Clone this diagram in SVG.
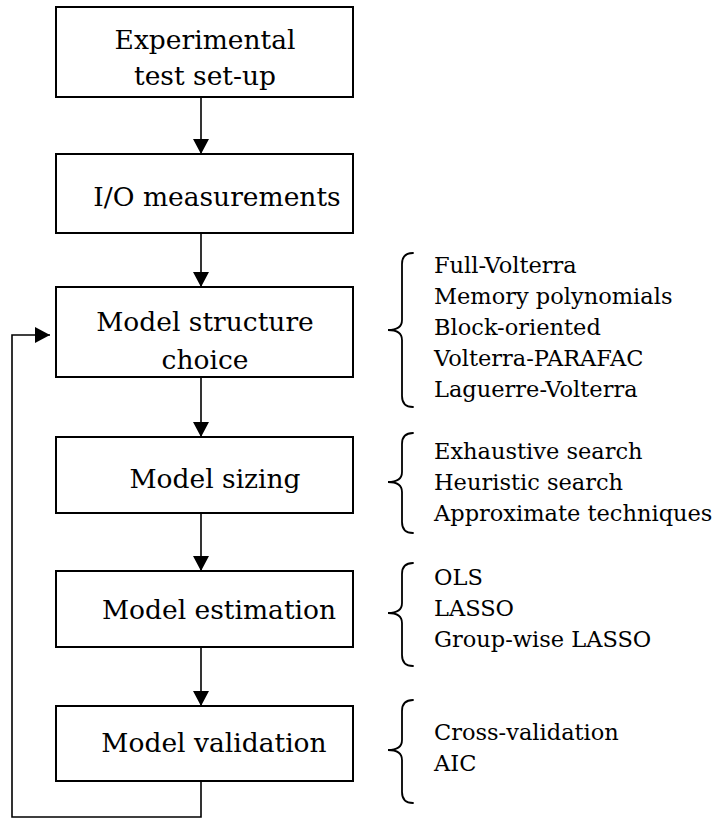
<svg xmlns="http://www.w3.org/2000/svg" width="715" height="819" viewBox="0 0 715 819">
  <style>
    .box { fill: #ffffff; stroke: #000000; stroke-width: 2; }
    .lbl { font-family: "DejaVu Serif", "Liberation Serif", serif; font-size: 26.5px; fill: #000000; text-anchor: middle; }
    .opt { font-family: "DejaVu Serif", "Liberation Serif", serif; font-size: 22.5px; fill: #000000; }
    .edge { fill: none; stroke: #000000; stroke-width: 1.6; }
    .brace { fill: none; stroke: #000000; stroke-width: 1.8; stroke-linecap: round; }
  </style>
  <defs>
    <marker id="arrow" viewBox="0 0 15 16" refX="15" refY="8" markerWidth="15" markerHeight="16" markerUnits="userSpaceOnUse" orient="auto">
      <path d="M0,0 L15,8 L0,16 Z" fill="#000000"/>
    </marker>
  </defs>

  <rect width="715" height="819" fill="#ffffff"/>

  <!-- connectors -->
  <g id="connectors">
    <line class="edge" x1="201" y1="98" x2="201" y2="154" marker-end="url(#arrow)"/>
    <line class="edge" x1="201" y1="234" x2="201" y2="287" marker-end="url(#arrow)"/>
    <line class="edge" x1="201" y1="378" x2="201" y2="437" marker-end="url(#arrow)"/>
    <line class="edge" x1="201" y1="513" x2="201" y2="571" marker-end="url(#arrow)"/>
    <line class="edge" x1="201" y1="647" x2="201" y2="706" marker-end="url(#arrow)"/>
    <!-- feedback loop from validation back to structure choice -->
    <polyline class="edge" points="201,781 201,817 12,817 12,335 50,335" marker-end="url(#arrow)"/>
  </g>

  <!-- flow nodes -->
  <g id="node-setup">
    <rect class="box" x="56" y="7" width="297" height="90"/>
    <text class="lbl" x="205" y="49">Experimental</text>
    <text class="lbl" x="205" y="85">test set-up</text>
  </g>
  <g id="node-measurements">
    <rect class="box" x="56" y="154" width="297" height="79"/>
    <text class="lbl" x="217" y="206">I/O measurements</text>
  </g>
  <g id="node-structure">
    <rect class="box" x="56" y="287" width="297" height="90"/>
    <text class="lbl" x="205" y="331">Model structure</text>
    <text class="lbl" x="205" y="369">choice</text>
  </g>
  <g id="node-sizing">
    <rect class="box" x="56" y="437" width="297" height="76"/>
    <text class="lbl" x="215" y="488">Model sizing</text>
  </g>
  <g id="node-estimation">
    <rect class="box" x="56" y="571" width="297" height="76"/>
    <text class="lbl" x="219" y="619">Model estimation</text>
  </g>
  <g id="node-validation">
    <rect class="box" x="56" y="706" width="297" height="75"/>
    <text class="lbl" x="214" y="752">Model validation</text>
  </g>

  <!-- option lists with braces -->
  <g id="opts-structure">
    <path class="brace" d="M413,253 Q402,253 402,264 L402,320 Q402,330 388,330 Q402,330 402,340 L402,396 Q402,407 413,407"/>
    <text class="opt" x="434" y="273">Full-Volterra</text>
    <text class="opt" x="434" y="304">Memory polynomials</text>
    <text class="opt" x="434" y="335">Block-oriented</text>
    <text class="opt" x="434" y="366">Volterra-PARAFAC</text>
    <text class="opt" x="434" y="397">Laguerre-Volterra</text>
  </g>
  <g id="opts-sizing">
    <path class="brace" d="M413,433 Q402,433 402,444 L402,472 Q402,482 388,482 Q402,482 402,492 L402,522 Q402,533 413,533"/>
    <text class="opt" x="434" y="459">Exhaustive search</text>
    <text class="opt" x="434" y="490">Heuristic search</text>
    <text class="opt" x="434" y="521">Approximate techniques</text>
  </g>
  <g id="opts-estimation">
    <path class="brace" d="M413,563 Q402,563 402,574 L402,603 Q402,613 388,613 Q402,613 402,623 L402,655 Q402,666 413,666"/>
    <text class="opt" x="434" y="585">OLS</text>
    <text class="opt" x="434" y="616">LASSO</text>
    <text class="opt" x="434" y="647">Group-wise LASSO</text>
  </g>
  <g id="opts-validation">
    <path class="brace" d="M413,700 Q402,700 402,711 L402,740 Q402,750 388,750 Q402,750 402,760 L402,792 Q402,803 413,803"/>
    <text class="opt" x="434" y="740">Cross-validation</text>
    <text class="opt" x="434" y="771">AIC</text>
  </g>
</svg>
